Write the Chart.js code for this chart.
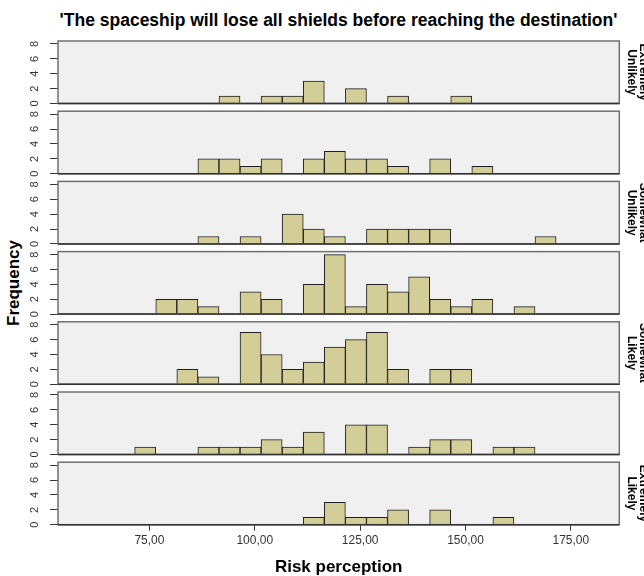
<!DOCTYPE html>
<html>
<head>
<meta charset="utf-8">
<script src="https://cdn.jsdelivr.net/npm/chart.js@4.4.1/dist/chart.umd.min.js"></script>
<style>
    body { margin: 0; width: 644px; height: 576px; background: #fff; position: relative; overflow: hidden;
           font-family: "Liberation Sans", Arial, sans-serif; }
    canvas { position: absolute; left: 0; }
    #title { position: absolute; left: 0; width: 677px; top: 10px; text-align: center;
             font-weight: bold; font-size: 17.5px; color: #000; white-space: nowrap; }
    #yTitle { position: absolute; left: 14px; top: 283px; transform: translate(-50%, -50%) rotate(-90deg);
              font-weight: bold; font-size: 17px; color: #000; white-space: nowrap; }
</style>
</head>
<body>
<div id="title">'The spaceship will lose all shields before reaching the destination'</div>
<div id="yTitle">Frequency</div>

<script>
// --- data (bin centres, bin width 5) ---
const binCenters = [74, 79, 84, 89, 94, 99, 104, 109, 114, 119, 124, 129, 134, 139, 144, 149, 154, 159, 164, 169];

const countsExtremelyUnlikely = [0, 0, 0, 0, 1, 0, 1, 1, 3, 0, 2, 0, 1, 0, 0, 1, 0, 0, 0, 0];
const countsUnlikely          = [0, 0, 0, 2, 2, 1, 2, 0, 2, 3, 2, 2, 1, 0, 2, 0, 1, 0, 0, 0];
const countsSomewhatUnlikely  = [0, 0, 0, 1, 0, 1, 0, 4, 2, 1, 0, 2, 2, 2, 2, 0, 0, 0, 0, 1];
const countsNeutral           = [0, 2, 2, 1, 0, 3, 2, 0, 4, 8, 1, 4, 3, 5, 2, 1, 2, 0, 1, 0];
const countsSomewhatLikely    = [0, 0, 2, 1, 0, 7, 4, 2, 3, 5, 6, 7, 2, 0, 2, 2, 0, 0, 0, 0];
const countsLikely            = [1, 0, 0, 1, 1, 1, 2, 1, 3, 0, 4, 4, 0, 1, 2, 2, 0, 1, 1, 0];
const countsExtremelyLikely   = [0, 0, 0, 0, 0, 0, 0, 0, 1, 3, 1, 1, 2, 0, 2, 0, 0, 1, 0, 0];

const panelCounts = [countsExtremelyUnlikely, countsUnlikely, countsSomewhatUnlikely, countsNeutral,
                     countsSomewhatLikely, countsLikely, countsExtremelyLikely];
// only every other panel label is shown in the original
const panelLabels = [['Extremely', 'Unlikely'], [], ['Somewhat', 'Unlikely'], [],
                     ['Somewhat', 'Likely'], [], ['Extremely', 'Likely']];

const xTicks = [75, 100, 125, 150, 175];
const yTicks = [0, 2, 4, 6, 8];

// --- layout ---
const FONT = '"Liberation Sans", Arial, sans-serif';
const X_MIN = 53.3, X_MAX = 186.5;
const Y_MAX = 8.4;
const BOX_TOP = 41, BOX_STEP = 70.2, BOX_H = 62.5;
const AREA_LEFT = 58, AREA_RIGHT = 619.3;
const W = 644, H = 576;

// panel background, frame and the facet label on the right
const panelFrame = {
    id: 'panelFrame',
    beforeDraw(chart) {
        const a = chart.chartArea, ctx = chart.ctx;
        ctx.save();
        ctx.fillStyle = '#f0f0f0';
        ctx.fillRect(a.left, a.top, a.right - a.left, a.bottom - a.top);
        ctx.restore();
    },
    afterDatasetsDraw(chart) {
        const a = chart.chartArea, ctx = chart.ctx;
        ctx.save();
        ctx.strokeStyle = '#707070';
        ctx.lineWidth = 1.5;
        ctx.strokeRect(a.left, a.top, a.right - a.left, a.bottom - a.top);
        ctx.strokeStyle = '#333';
        ctx.beginPath();
        ctx.moveTo(a.left, a.bottom);
        ctx.lineTo(a.right, a.bottom);
        ctx.stroke();
        ctx.restore();
    },
    afterDraw(chart, args, opts) {
        const lines = opts.label || [];
        if (!lines.length) return;
        const a = chart.chartArea, ctx = chart.ctx;
        ctx.save();
        ctx.translate(637.5, (a.top + a.bottom) / 2);
        ctx.rotate(Math.PI / 2);
        ctx.font = 'bold 12px ' + FONT;
        ctx.fillStyle = '#000';
        ctx.textAlign = 'center';
        ctx.textBaseline = 'middle';
        ctx.fillText(lines[0], 0, -6);
        ctx.fillText(lines[1], 0, 6);
        ctx.restore();
    }
};

panelCounts.forEach((counts, i) => {
    const isLast = i === panelCounts.length - 1;
    const boxTop = BOX_TOP + i * BOX_STEP;
    const canvasTop = Math.floor(boxTop) - 8;
    const canvasH = isLast ? H - canvasTop : 80;
    const padTop = boxTop - canvasTop;
    const padBottom = isLast ? 0 : canvasH - padTop - BOX_H;
    const xAxisH = isLast ? canvasH - padTop - BOX_H : 0;

    const canvas = document.createElement('canvas');
    canvas.width = W;
    canvas.height = canvasH;
    canvas.style.top = canvasTop + 'px';
    document.body.appendChild(canvas);

    new Chart(canvas, {
        type: 'bar',
        data: {
            datasets: [{
                data: binCenters.map((x, j) => ({ x: x, y: counts[j] })),
                backgroundColor: '#d3ce97',
                borderColor: '#1e1e1e',
                borderWidth: 1,
                barPercentage: 1,
                categoryPercentage: 1
            }]
        },
        options: {
            responsive: false,
            animation: false,
            devicePixelRatio: 1,
            layout: { padding: { top: padTop, bottom: padBottom, left: 0, right: W - AREA_RIGHT } },
            plugins: {
                legend: { display: false },
                tooltip: { enabled: false },
                panelFrame: { label: panelLabels[i] }
            },
            scales: {
                x: {
                    type: 'linear',
                    min: X_MIN,
                    max: X_MAX,
                    offset: false,
                    display: isLast,
                    afterBuildTicks: s => { s.ticks = xTicks.map(v => ({ value: v })); },
                    afterFit: s => { s.height = xAxisH; s.paddingLeft = 0; s.paddingRight = 0; },
                    grid: { offset: false, drawOnChartArea: false, tickLength: 6, color: '#333', lineWidth: 1 },
                    border: { display: false },
                    ticks: {
                        font: { family: FONT, size: 12 },
                        color: '#333',
                        padding: 3,
                        maxRotation: 0,
                        callback: v => v.toFixed(2).replace('.', ',')
                    },
                    title: {
                        display: true,
                        text: 'Risk perception',
                        color: '#000',
                        font: { family: FONT, size: 17, weight: 'bold', lineHeight: 1 },
                        padding: { top: 0, bottom: 0.5 }
                    }
                },
                y: {
                    min: 0,
                    max: Y_MAX,
                    afterBuildTicks: s => { s.ticks = yTicks.map(v => ({ value: v })); },
                    afterFit: s => { s.width = AREA_LEFT; s.paddingTop = 0; s.paddingBottom = 0; },
                    grid: { drawOnChartArea: false, tickLength: 8, color: '#333', lineWidth: 1 },
                    border: { display: false },
                    ticks: {
                        font: { family: FONT, size: 11 },
                        color: '#333',
                        minRotation: 90,
                        maxRotation: 90,
                        crossAlign: 'center',
                        padding: 12
                    }
                }
            }
        },
        plugins: [panelFrame]
    });
});
</script>
</body>
</html>
